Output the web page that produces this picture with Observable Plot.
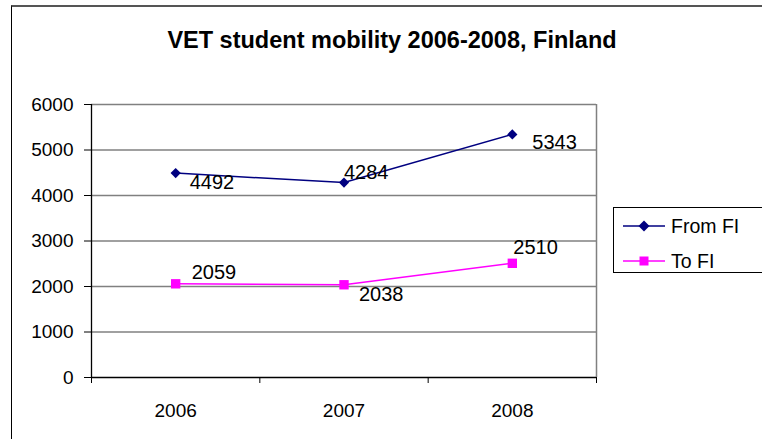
<!DOCTYPE html>
<html>
<head>
<meta charset="utf-8">
<script src="https://cdn.jsdelivr.net/npm/d3@7"></script>
<script src="https://cdn.jsdelivr.net/npm/@observablehq/plot@0.6"></script>
<style>
  html, body { margin: 0; padding: 0; background: #fff; overflow: hidden; }
  #wrap { position: relative; width: 762px; height: 439px; font-family: "Liberation Sans", Arial, sans-serif; }
  #border { position: absolute; left: 11px; top: 5px; width: 800px; height: 500px;
            border-left: 1px solid #000; border-top: 2px solid #555; box-sizing: border-box; }
  #title { position: absolute; left: 12px; width: 760px; top: 26px; text-align: center;
           font-weight: bold; font-size: 23.5px; line-height: 28px; color: #000; }
  #chart { position: absolute; left: 0; top: 0; }
  #legend { position: absolute; left: 613px; top: 207px; width: 170px; height: 66px;
            border: 1px solid #000; box-sizing: border-box; background: #fff; }
  .item { position: absolute; left: 8px; height: 24px; display: flex; align-items: center; font-size: 19.5px; }
  .item svg { margin-right: 5px; }
</style>
</head>
<body>
<div id="wrap">
  <div id="border"></div>
  <div id="chart"></div>
  <div id="title">VET student mobility 2006-2008, Finland</div>
  <div id="legend"></div>
</div>
<script>
const years = [2006, 2007, 2008];
const seriesNames = ["From FI", "To FI"];
const fromFI = [4492, 4284, 5343];
const toFI = [2059, 2038, 2510];
const yTicks = [0, 1000, 2000, 3000, 4000, 5000, 6000];
const colors = ["#000080", "#FF00FF"];

const data = years.flatMap((yr, i) => [
  {year: yr, series: seriesNames[0], value: fromFI[i], idx: i},
  {year: yr, series: seriesNames[1], value: toFI[i], idx: i}
]);

// label placement (pixel offsets from each point), as in the reference
const labelOffsets = {
  "From FI": [[14, 9], [0, -10], [20, 8]],
  "To FI": [[16, -11], [15, 10], [1, -16]]
};

const bounds = years.map(y => y - 0.5).concat([years[years.length - 1] + 0.5]);
const symbols = {"From FI": "diamond2", "To FI": "square"};

const labelMarks = data.map(d => Plot.text([d], {
  x: "year", y: "value", text: d => String(d.value),
  textAnchor: "start", dx: labelOffsets[d.series][d.idx][0], dy: labelOffsets[d.series][d.idx][1],
  fill: "#000", fontSize: 20
}));

const chart = Plot.plot({
  width: 762,
  height: 439,
  marginLeft: 91,
  marginRight: 166,
  marginTop: 104,
  marginBottom: 62,
  style: {fontFamily: "'Liberation Sans', Arial, sans-serif", fontSize: "19px", background: "transparent", color: "#000"},
  x: {domain: [bounds[0], bounds[bounds.length - 1]]},
  y: {domain: [0, 6000]},
  color: {domain: seriesNames, range: colors},
  marks: [
    Plot.gridY(yTicks.slice(1), {stroke: "#808080", strokeOpacity: 1, strokeWidth: 1.3}),
    Plot.ruleX([bounds[bounds.length - 1]], {stroke: "#808080", strokeWidth: 1.5}),
    Plot.axisY({ticks: yTicks, tickSize: 7, tickPadding: 11, tickFormat: d => String(d), fontSize: 19, label: null, stroke: "#000"}),
    Plot.axisX({ticks: bounds, tickSize: 6, tickFormat: () => "", label: null, stroke: "#000"}),
    Plot.axisX({ticks: years, tickSize: 0, tickPadding: 26, tickFormat: d => String(d), fontSize: 19, label: null}),
    Plot.ruleX([bounds[0]], {stroke: "#000", strokeWidth: 1.3}),
    Plot.ruleY([0], {stroke: "#000", strokeWidth: 1.3}),
    Plot.line(data, {x: "year", y: "value", stroke: "series", z: "series", strokeWidth: 1.5}),
    Plot.dot(data.filter(d => d.series === "From FI"), {x: "year", y: "value", fill: "series", symbol: "diamond2", r: 4.6, stroke: null}),
    Plot.dot(data.filter(d => d.series === "To FI"), {x: "year", y: "value", fill: "series", symbol: "square", r: 5.3, stroke: null}),
    ...labelMarks
  ]
});
document.getElementById("chart").appendChild(chart);

// legend
const legend = document.getElementById("legend");
seriesNames.forEach((name, i) => {
  const item = document.createElement("div");
  item.className = "item";
  item.style.top = (i === 0 ? 6 : 41) + "px";
  const sw = d3.create("svg").attr("width", 44).attr("height", 14);
  sw.append("line").attr("x1", 1).attr("x2", 43).attr("y1", 7).attr("y2", 7)
    .attr("stroke", colors[i]).attr("stroke-width", 1.5);
  if (symbols[name] === "diamond2") {
    sw.append("path").attr("d", "M22,1.5L27.5,7L22,12.5L16.5,7Z").attr("fill", colors[i]);
  } else {
    sw.append("rect").attr("x", 17.5).attr("y", 2.5).attr("width", 9).attr("height", 9).attr("fill", colors[i]);
  }
  item.appendChild(sw.node());
  const t = document.createElement("span");
  t.textContent = name;
  item.appendChild(t);
  legend.appendChild(item);
});
</script>
</body>
</html>
